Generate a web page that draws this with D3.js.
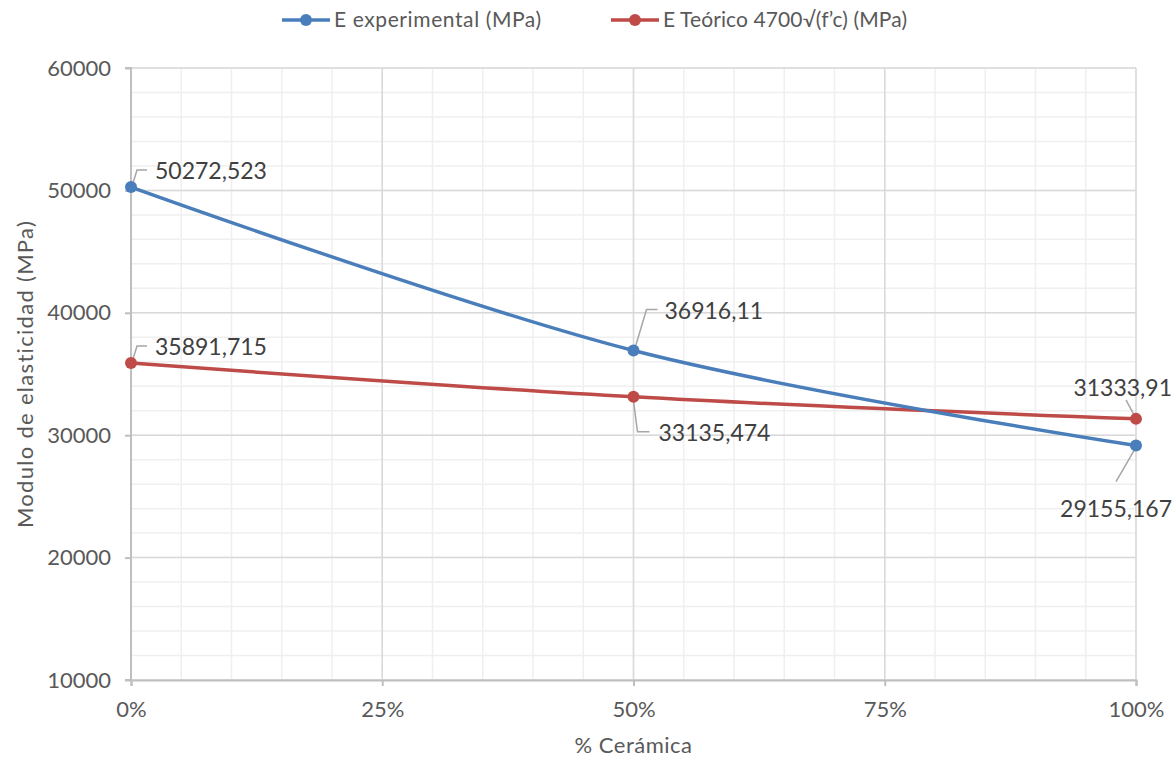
<!DOCTYPE html>
<html>
<head>
<meta charset="utf-8">
<script src="https://cdn.jsdelivr.net/npm/d3@7"></script>
<style>
  html, body { margin: 0; padding: 0; background: #fff; }
  svg { display: block; }
  text { font-family: "Lato", "Open Sans", sans-serif; fill: #595959; }
</style>
</head>
<body>
<svg id="chart" width="1176" height="758"></svg>
<script>
// Percentage of ceramic replacement (x values)
const ceramica = [0, 0.5, 1];
// Measured modulus of elasticity (MPa)
const eExperimental = [50272.523, 36916.11, 29155.167];
// Theoretical modulus 4700·√(f'c) (MPa)
const eTeorico = [35891.715, 33135.474, 31333.91];
const labelsExp = ["50272,523", "36916,11", "29155,167"];
const labelsTeo = ["35891,715", "33135,474", "31333,91"];
const yTicks = [10000, 20000, 30000, 40000, 50000, 60000];
const xTicks = [0, 0.25, 0.5, 0.75, 1];
const seriesNames = ["E experimental (MPa)", "E Teórico 4700\u221A(f\u2019c) (MPa)"];

const svg = d3.select("#chart");
const mLeft = 131, mRight = 1136, mTop = 68, mBottom = 680;

const x = d3.scaleLinear().domain([0, 1]).range([mLeft, mRight]);
const y = d3.scaleLinear().domain([10000, 60000]).range([mBottom, mTop]);

const blue = "#4a7ebb", red = "#be4b48";

// Minor gridlines
const g = svg.append("g");
g.selectAll(".minx").data(d3.range(0, 1.0001, 0.05)).enter().append("line")
  .attr("x1", d => x(d)).attr("x2", d => x(d)).attr("y1", mTop).attr("y2", mBottom)
  .attr("stroke", "#efefef").attr("stroke-width", 1.5);
g.selectAll(".miny").data(d3.range(10000, 60001, 2000)).enter().append("line")
  .attr("x1", mLeft).attr("x2", mRight).attr("y1", d => y(d)).attr("y2", d => y(d))
  .attr("stroke", "#efefef").attr("stroke-width", 1.5);
// Major gridlines
g.selectAll(".majx").data(xTicks).enter().append("line")
  .attr("x1", d => x(d)).attr("x2", d => x(d)).attr("y1", mTop).attr("y2", mBottom)
  .attr("stroke", "#d9d9d9").attr("stroke-width", 1.5);
g.selectAll(".majy").data(yTicks).enter().append("line")
  .attr("x1", mLeft).attr("x2", mRight).attr("y1", d => y(d)).attr("y2", d => y(d))
  .attr("stroke", "#d9d9d9").attr("stroke-width", 1.5);

// Axes
const yAxis = d3.axisLeft(y).tickValues(yTicks).tickSize(6).tickPadding(14).tickFormat(d3.format("d"));
const ya = svg.append("g").attr("transform", `translate(${mLeft},0)`).call(yAxis);
const xAxis = d3.axisBottom(x).tickValues(xTicks).tickSize(6).tickPadding(15).tickFormat(d3.format(".0%"));
const xa = svg.append("g").attr("transform", `translate(0,${mBottom})`).call(xAxis);
[ya, xa].forEach(a => {
  a.select(".domain").attr("stroke", "#bfbfbf").attr("stroke-width", 2);
  a.selectAll(".tick line").attr("stroke", "#bfbfbf").attr("stroke-width", 2);
  a.selectAll(".tick text").style("font-family", "Lato, sans-serif").style("font-size", "22px").attr("fill", "#595959");
});
ya.select(".domain").attr("d", `M-6,${mTop}H0V${mBottom}H-6`);

// Axis titles
svg.append("text").attr("x", (mLeft + mRight) / 2).attr("y", 753).attr("text-anchor", "middle")
  .style("font-size", "22px").style("letter-spacing", "0.5px").text("% Cerámica");
svg.append("text").attr("transform", `translate(33,${(mTop + mBottom) / 2}) rotate(-90)`)
  .attr("text-anchor", "middle").style("font-size", "22px").style("letter-spacing", "1.3px")
  .text("Modulo de elasticidad (MPa)");

// Series lines (smoothed)
const line = d3.line().x((d, i) => x(ceramica[i])).y(d => y(d)).curve(d3.curveCardinal.tension(0));
[[eTeorico, red], [eExperimental, blue]].forEach(([vals, col]) => {
  svg.append("path").attr("d", line(vals)).attr("fill", "none").attr("stroke", col)
    .attr("stroke-width", 3.5).attr("stroke-linecap", "round");
});

// Data labels with leader lines (offsets relative to each point)
const labelLayout = [
  // experimental
  [{ l: [[2, -4], [6, -17], [16, -17]], t: [24, -16], a: "start" },
   { l: [[2, -4], [13, -41], [24, -41]], t: [31, -40], a: "start" },
   { l: [[-2, 5], [-20, 36]], t: [36, 63], a: "end" }],
  // teórico
  [{ l: [[2, -4], [6, -17], [16, -17]], t: [24, -16], a: "start" },
   { l: [[0, 4], [4, 35], [16, 35]], t: [25, 36], a: "start" },
   { l: [[-2, -4], [-10, -19]], t: [36, -31], a: "end" }]
];
[[eExperimental, labelsExp, 0], [eTeorico, labelsTeo, 1]].forEach(([vals, labs, s]) => {
  vals.forEach((v, i) => {
    const px = x(ceramica[i]), py = y(v);
    const L = labelLayout[s][i];
    svg.append("polyline")
      .attr("points", L.l.map(p => `${px + p[0]},${py + p[1]}`).join(" "))
      .attr("fill", "none").attr("stroke", "#a6a6a6").attr("stroke-width", 1.5);
    svg.append("text").attr("x", px + L.t[0]).attr("y", py + L.t[1]).attr("dy", "0.35em")
      .attr("text-anchor", L.a).style("font-size", "23px").style("fill", "#404040").text(labs[i]);
  });
});

// Markers
[[eTeorico, red], [eExperimental, blue]].forEach(([vals, col]) => {
  svg.selectAll(null).data(vals).enter().append("circle")
    .attr("cx", (d, i) => x(ceramica[i])).attr("cy", d => y(d)).attr("r", 6).attr("fill", col);
});

// Legend
const legend = [[282, blue, seriesNames[0], "0.6px"], [611, red, seriesNames[1], "0.1px"]];
legend.forEach(([lx, col, name, ls]) => {
  svg.append("line").attr("x1", lx).attr("x2", lx + 48).attr("y1", 20).attr("y2", 20)
    .attr("stroke", col).attr("stroke-width", 3.5);
  svg.append("circle").attr("cx", lx + 24).attr("cy", 20).attr("r", 6).attr("fill", col);
  svg.append("text").attr("x", lx + 52).attr("y", 20).attr("dy", "0.35em")
    .style("font-size", "21px").style("letter-spacing", ls).text(name);
});
</script>
</body>
</html>
